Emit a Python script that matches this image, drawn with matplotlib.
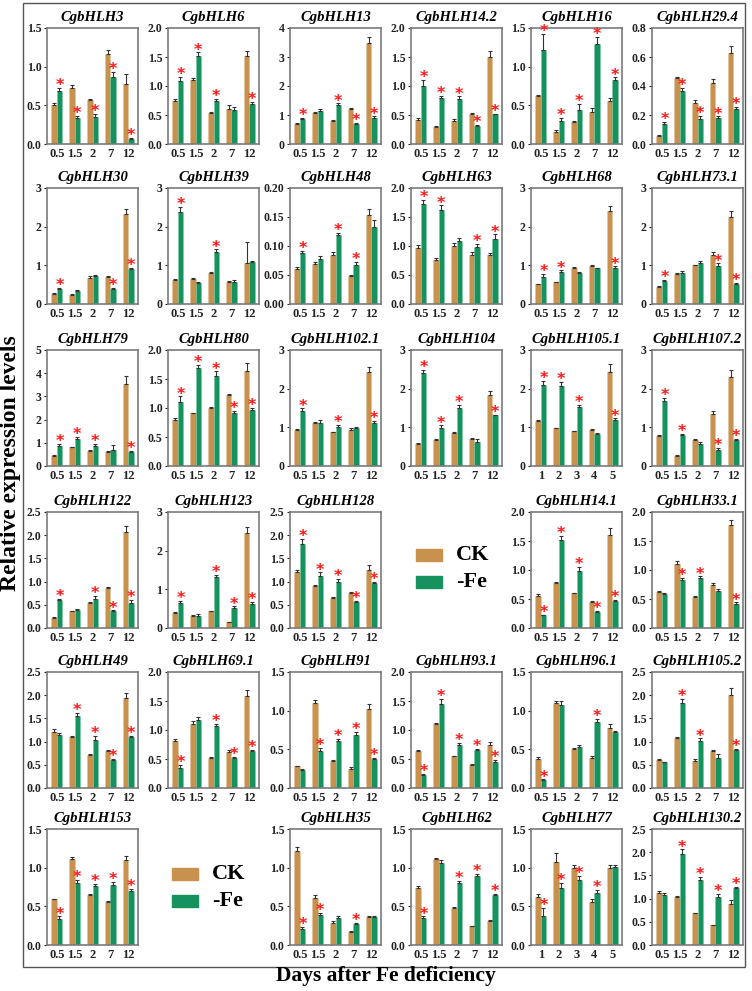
import matplotlib
matplotlib.use("Agg")
import matplotlib.pyplot as plt
from matplotlib.patches import Rectangle

# ---------------- data ----------------
genes = ["CgbHLH3", "CgbHLH6", "CgbHLH13", "CgbHLH14.2", "CgbHLH16", "CgbHLH29.4",
         "CgbHLH30", "CgbHLH39", "CgbHLH48", "CgbHLH63", "CgbHLH68", "CgbHLH73.1",
         "CgbHLH79", "CgbHLH80", "CgbHLH102.1", "CgbHLH104", "CgbHLH105.1", "CgbHLH107.2",
         "CgbHLH122", "CgbHLH123", "CgbHLH128", None, "CgbHLH14.1", "CgbHLH33.1",
         "CgbHLH49", "CgbHLH69.1", "CgbHLH91", "CgbHLH93.1", "CgbHLH96.1", "CgbHLH105.2",
         "CgbHLH153", None, "CgbHLH35", "CgbHLH62", "CgbHLH77", "CgbHLH130.2"]

days = ["0.5", "1.5", "2", "7", "12"]
days_alt = ["1", "2", "3", "4", "5"]
alt_x_genes = ["CgbHLH105.1", "CgbHLH77"]

ck = {
    "CgbHLH3": [0.51, 0.72, 0.57, 1.17, 0.77],
    "CgbHLH6": [0.75, 1.11, 0.54, 0.61, 1.52],
    "CgbHLH13": [0.70, 1.08, 0.80, 1.20, 3.50],
    "CgbHLH14.2": [0.42, 0.29, 0.40, 0.52, 1.50],
    "CgbHLH16": [0.62, 0.16, 0.28, 0.42, 0.55],
    "CgbHLH29.4": [0.055, 0.455, 0.28, 0.42, 0.63],
    "CgbHLH30": [0.27, 0.24, 0.67, 0.69, 2.32],
    "CgbHLH39": [0.62, 0.64, 0.80, 0.58, 1.07],
    "CgbHLH48": [0.061, 0.069, 0.085, 0.048, 0.154],
    "CgbHLH63": [0.97, 0.76, 1.00, 0.85, 0.84],
    "CgbHLH68": [0.52, 0.56, 0.92, 0.98, 2.40],
    "CgbHLH73.1": [0.45, 0.78, 1.00, 1.28, 2.24],
    "CgbHLH79": [0.45, 0.80, 0.65, 0.62, 3.55],
    "CgbHLH80": [0.79, 0.91, 1.00, 1.22, 1.63],
    "CgbHLH102.1": [0.93, 1.10, 0.87, 0.94, 2.42],
    "CgbHLH104": [0.58, 0.66, 0.85, 0.70, 1.84],
    "CgbHLH105.1": [1.16, 0.97, 0.90, 0.93, 2.44],
    "CgbHLH107.2": [0.77, 0.27, 0.66, 1.35, 2.30],
    "CgbHLH122": [0.22, 0.36, 0.54, 0.86, 2.07],
    "CgbHLH123": [0.40, 0.32, 0.43, 0.15, 2.45],
    "CgbHLH128": [1.21, 0.90, 0.64, 0.75, 1.26],
    "CgbHLH14.1": [0.56, 0.78, 0.60, 0.45, 1.60],
    "CgbHLH33.1": [0.62, 1.10, 0.54, 0.75, 1.77],
    "CgbHLH49": [1.21, 1.10, 0.72, 0.79, 1.93],
    "CgbHLH69.1": [0.81, 1.11, 0.52, 0.62, 1.58],
    "CgbHLH91": [0.28, 1.10, 0.35, 0.25, 1.02],
    "CgbHLH93.1": [0.64, 1.11, 0.55, 0.40, 0.75],
    "CgbHLH96.1": [0.38, 1.10, 0.51, 0.39, 0.78],
    "CgbHLH105.2": [0.60, 1.07, 0.59, 0.80, 2.00],
    "CgbHLH153": [0.59, 1.11, 0.65, 0.55, 1.10],
    "CgbHLH35": [1.21, 0.61, 0.29, 0.17, 0.36],
    "CgbHLH62": [0.74, 1.11, 0.48, 0.24, 0.31],
    "CgbHLH77": [0.62, 1.07, 1.00, 0.55, 1.00],
    "CgbHLH130.2": [1.12, 1.04, 0.69, 0.43, 0.88],
}
fe = {
    "CgbHLH3": [0.69, 0.33, 0.35, 0.86, 0.07],
    "CgbHLH6": [1.09, 1.52, 0.74, 0.59, 0.69],
    "CgbHLH13": [0.85, 1.15, 1.35, 0.68, 0.90],
    "CgbHLH14.2": [1.00, 0.79, 0.77, 0.31, 0.51],
    "CgbHLH16": [1.22, 0.30, 0.44, 1.29, 0.83],
    "CgbHLH29.4": [0.14, 0.365, 0.175, 0.18, 0.24],
    "CgbHLH30": [0.39, 0.33, 0.72, 0.38, 0.91],
    "CgbHLH39": [2.39, 0.54, 1.35, 0.58, 1.08],
    "CgbHLH48": [0.088, 0.077, 0.119, 0.068, 0.132],
    "CgbHLH63": [1.72, 1.62, 1.09, 0.98, 1.12],
    "CgbHLH68": [0.71, 0.83, 0.81, 0.93, 0.94],
    "CgbHLH73.1": [0.60, 0.81, 1.05, 0.99, 0.53],
    "CgbHLH79": [0.87, 1.17, 0.88, 0.71, 0.62],
    "CgbHLH80": [1.10, 1.69, 1.55, 0.92, 0.96],
    "CgbHLH102.1": [1.41, 1.11, 1.02, 0.97, 1.12],
    "CgbHLH104": [2.40, 0.97, 1.50, 0.62, 1.31],
    "CgbHLH105.1": [2.10, 2.08, 1.52, 0.82, 1.20],
    "CgbHLH107.2": [1.68, 0.79, 0.58, 0.42, 0.68],
    "CgbHLH122": [0.60, 0.38, 0.63, 0.36, 0.54],
    "CgbHLH123": [0.65, 0.32, 1.33, 0.52, 0.62],
    "CgbHLH128": [1.80, 1.13, 1.00, 0.56, 0.96],
    "CgbHLH14.1": [0.22, 1.52, 0.99, 0.27, 0.47],
    "CgbHLH33.1": [0.59, 0.82, 0.86, 0.63, 0.41],
    "CgbHLH49": [1.14, 1.55, 1.04, 0.60, 1.09],
    "CgbHLH69.1": [0.35, 1.17, 1.07, 0.51, 0.64],
    "CgbHLH91": [0.23, 0.48, 0.61, 0.68, 0.37],
    "CgbHLH93.1": [0.23, 1.45, 0.75, 0.65, 0.44],
    "CgbHLH96.1": [0.10, 1.07, 0.53, 0.85, 0.72],
    "CgbHLH105.2": [0.55, 1.83, 1.02, 0.65, 0.81],
    "CgbHLH153": [0.34, 0.80, 0.76, 0.77, 0.70],
    "CgbHLH35": [0.21, 0.39, 0.35, 0.27, 0.36],
    "CgbHLH62": [0.35, 1.06, 0.80, 0.89, 0.65],
    "CgbHLH77": [0.38, 0.74, 0.84, 0.67, 1.01],
    "CgbHLH130.2": [1.08, 1.96, 1.40, 1.03, 1.23],
}
ck_err = {
    "CgbHLH3": [0.02, 0.04, 0.01, 0.05, 0.13],
    "CgbHLH6": [0.03, 0.02, 0.01, 0.07, 0.09],
    "CgbHLH13": [0.03, 0.03, 0.04, 0.03, 0.20],
    "CgbHLH14.2": [0.02, 0.02, 0.03, 0.02, 0.10],
    "CgbHLH16": [0.02, 0.02, 0.02, 0.04, 0.05],
    "CgbHLH29.4": [0.005, 0.01, 0.025, 0.03, 0.045],
    "CgbHLH30": [0.02, 0.01, 0.05, 0.03, 0.13],
    "CgbHLH39": [0.02, 0.02, 0.03, 0.02, 0.53],
    "CgbHLH48": [0.002, 0.003, 0.004, 0.002, 0.010],
    "CgbHLH63": [0.04, 0.03, 0.05, 0.04, 0.04],
    "CgbHLH68": [0.01, 0.02, 0.03, 0.03, 0.13],
    "CgbHLH73.1": [0.02, 0.02, 0.02, 0.06, 0.17],
    "CgbHLH79": [0.02, 0.02, 0.03, 0.02, 0.35],
    "CgbHLH80": [0.03, 0.01, 0.02, 0.03, 0.14],
    "CgbHLH102.1": [0.02, 0.03, 0.02, 0.04, 0.13],
    "CgbHLH104": [0.02, 0.03, 0.03, 0.03, 0.10],
    "CgbHLH105.1": [0.03, 0.02, 0.01, 0.03, 0.20],
    "CgbHLH107.2": [0.04, 0.02, 0.04, 0.07, 0.19],
    "CgbHLH122": [0.01, 0.01, 0.01, 0.02, 0.12],
    "CgbHLH123": [0.02, 0.02, 0.02, 0.01, 0.15],
    "CgbHLH128": [0.03, 0.02, 0.02, 0.02, 0.09],
    "CgbHLH14.1": [0.02, 0.01, 0.01, 0.02, 0.12],
    "CgbHLH33.1": [0.01, 0.06, 0.01, 0.02, 0.10],
    "CgbHLH49": [0.07, 0.03, 0.02, 0.02, 0.12],
    "CgbHLH69.1": [0.03, 0.04, 0.01, 0.03, 0.11],
    "CgbHLH91": [0.01, 0.04, 0.01, 0.02, 0.06],
    "CgbHLH93.1": [0.01, 0.01, 0.01, 0.01, 0.04],
    "CgbHLH96.1": [0.02, 0.03, 0.01, 0.03, 0.05],
    "CgbHLH105.2": [0.03, 0.03, 0.04, 0.02, 0.15],
    "CgbHLH153": [0.01, 0.03, 0.01, 0.02, 0.05],
    "CgbHLH35": [0.06, 0.04, 0.02, 0.01, 0.02],
    "CgbHLH62": [0.02, 0.02, 0.01, 0.01, 0.01],
    "CgbHLH77": [0.04, 0.12, 0.03, 0.04, 0.04],
    "CgbHLH130.2": [0.05, 0.02, 0.01, 0.01, 0.10],
}
fe_err = {
    "CgbHLH3": [0.04, 0.03, 0.04, 0.07, 0.01],
    "CgbHLH6": [0.06, 0.06, 0.04, 0.05, 0.03],
    "CgbHLH13": [0.05, 0.07, 0.05, 0.04, 0.05],
    "CgbHLH14.2": [0.11, 0.04, 0.05, 0.02, 0.01],
    "CgbHLH16": [0.20, 0.04, 0.08, 0.09, 0.03],
    "CgbHLH29.4": [0.01, 0.02, 0.02, 0.01, 0.015],
    "CgbHLH30": [0.03, 0.03, 0.03, 0.03, 0.03],
    "CgbHLH39": [0.12, 0.02, 0.06, 0.03, 0.04],
    "CgbHLH48": [0.004, 0.005, 0.003, 0.004, 0.012],
    "CgbHLH63": [0.08, 0.08, 0.05, 0.05, 0.08],
    "CgbHLH68": [0.06, 0.04, 0.02, 0.01, 0.03],
    "CgbHLH73.1": [0.03, 0.05, 0.05, 0.06, 0.02],
    "CgbHLH79": [0.08, 0.08, 0.07, 0.20, 0.03],
    "CgbHLH80": [0.10, 0.05, 0.08, 0.03, 0.04],
    "CgbHLH102.1": [0.08, 0.07, 0.04, 0.04, 0.04],
    "CgbHLH104": [0.09, 0.08, 0.09, 0.07, 0.02],
    "CgbHLH105.1": [0.10, 0.09, 0.05, 0.04, 0.03],
    "CgbHLH107.2": [0.08, 0.04, 0.05, 0.05, 0.01],
    "CgbHLH122": [0.02, 0.02, 0.06, 0.02, 0.06],
    "CgbHLH123": [0.04, 0.03, 0.05, 0.04, 0.06],
    "CgbHLH128": [0.12, 0.07, 0.06, 0.03, 0.03],
    "CgbHLH14.1": [0.01, 0.07, 0.06, 0.02, 0.02],
    "CgbHLH33.1": [0.02, 0.04, 0.03, 0.05, 0.03],
    "CgbHLH49": [0.04, 0.07, 0.08, 0.02, 0.04],
    "CgbHLH69.1": [0.05, 0.05, 0.04, 0.02, 0.02],
    "CgbHLH91": [0.01, 0.04, 0.03, 0.05, 0.02],
    "CgbHLH93.1": [0.01, 0.08, 0.03, 0.02, 0.05],
    "CgbHLH96.1": [0.01, 0.05, 0.03, 0.04, 0.02],
    "CgbHLH105.2": [0.02, 0.09, 0.05, 0.08, 0.03],
    "CgbHLH153": [0.03, 0.04, 0.03, 0.05, 0.03],
    "CgbHLH35": [0.02, 0.02, 0.02, 0.02, 0.01],
    "CgbHLH62": [0.02, 0.04, 0.03, 0.03, 0.01],
    "CgbHLH77": [0.10, 0.06, 0.05, 0.04, 0.03],
    "CgbHLH130.2": [0.04, 0.10, 0.06, 0.07, 0.02],
}
# indices of -Fe bars marked as significant
stars = {
    "CgbHLH3": [0, 1, 2, 3, 4], "CgbHLH6": [0, 1, 2, 4], "CgbHLH13": [0, 2, 3, 4],
    "CgbHLH14.2": [0, 1, 2, 3, 4], "CgbHLH16": [0, 1, 2, 3, 4], "CgbHLH29.4": [0, 1, 2, 3, 4],
    "CgbHLH30": [0, 3, 4], "CgbHLH39": [0, 2], "CgbHLH48": [0, 2, 3],
    "CgbHLH63": [0, 1, 3, 4], "CgbHLH68": [0, 1, 4], "CgbHLH73.1": [0, 3, 4],
    "CgbHLH79": [0, 1, 2, 4], "CgbHLH80": [0, 1, 2, 3, 4], "CgbHLH102.1": [0, 2, 4],
    "CgbHLH104": [0, 1, 2, 4], "CgbHLH105.1": [0, 1, 2, 4], "CgbHLH107.2": [0, 1, 3, 4],
    "CgbHLH122": [0, 2, 3, 4], "CgbHLH123": [0, 2, 3, 4], "CgbHLH128": [0, 1, 2, 3, 4],
    "CgbHLH14.1": [0, 1, 2, 3, 4], "CgbHLH33.1": [1, 2, 4],
    "CgbHLH49": [1, 2, 3, 4], "CgbHLH69.1": [0, 2, 3, 4], "CgbHLH91": [1, 2, 3, 4],
    "CgbHLH93.1": [0, 1, 2, 3, 4], "CgbHLH96.1": [0, 3], "CgbHLH105.2": [1, 2, 4],
    "CgbHLH153": [0, 1, 2, 3, 4], "CgbHLH35": [0, 1, 3], "CgbHLH62": [0, 2, 3, 4],
    "CgbHLH77": [0, 1, 2, 3], "CgbHLH130.2": [1, 2, 3, 4],
}
# y-axis (max, step, decimals)
yaxis = {
    "CgbHLH3": (1.5, 0.5, 1), "CgbHLH6": (2.0, 0.5, 1), "CgbHLH13": (4, 1, 0),
    "CgbHLH14.2": (2.0, 0.5, 1), "CgbHLH16": (1.5, 0.5, 1), "CgbHLH29.4": (0.8, 0.2, 1),
    "CgbHLH30": (3, 1, 0), "CgbHLH39": (3, 1, 0), "CgbHLH48": (0.20, 0.05, 2),
    "CgbHLH63": (2.0, 0.5, 1), "CgbHLH68": (3, 1, 0), "CgbHLH73.1": (3, 1, 0),
    "CgbHLH79": (5, 1, 0), "CgbHLH80": (2.0, 0.5, 1), "CgbHLH102.1": (3, 1, 0),
    "CgbHLH104": (3, 1, 0), "CgbHLH105.1": (3, 1, 0), "CgbHLH107.2": (3, 1, 0),
    "CgbHLH122": (2.5, 0.5, 1), "CgbHLH123": (3, 1, 0), "CgbHLH128": (2.5, 0.5, 1),
    "CgbHLH14.1": (2.0, 0.5, 1), "CgbHLH33.1": (2.0, 0.5, 1),
    "CgbHLH49": (2.5, 0.5, 1), "CgbHLH69.1": (2.0, 0.5, 1), "CgbHLH91": (1.5, 0.5, 1),
    "CgbHLH93.1": (2.0, 0.5, 1), "CgbHLH96.1": (1.5, 0.5, 1), "CgbHLH105.2": (2.5, 0.5, 1),
    "CgbHLH153": (1.5, 0.5, 1), "CgbHLH35": (1.5, 0.5, 1), "CgbHLH62": (1.5, 0.5, 1),
    "CgbHLH77": (1.5, 0.5, 1), "CgbHLH130.2": (2.5, 0.5, 1),
}

CK_COLOR = "#C8924E"
FE_COLOR = "#16925E"
SERIF = ["Liberation Serif", "DejaVu Serif"]

W, H = 752, 991
fig = plt.figure(figsize=(W / 100, H / 100), dpi=100)

col_left = [47, 168, 290, 411, 531, 652]
ax_w = 91
row_top = [28, 188, 350, 512, 672, 829]
ax_h = 116

def px_rect(x, y, w, h):
    return [x / W, 1 - (y + h) / H, w / W, h / H]

bw = 0.3
for i, g in enumerate(genes):
    r, c = divmod(i, 6)
    if g is None:
        continue
    ax = fig.add_axes(px_rect(col_left[c], row_top[r], ax_w, ax_h))
    ymax, step, dec = yaxis[g]
    xs = list(range(5))
    xck = [x - bw / 2 for x in xs]
    xfe = [x + bw / 2 for x in xs]
    ax.bar(xck, ck[g], width=bw, color=CK_COLOR, edgecolor="#E2C49A", linewidth=0.4, zorder=2)
    ax.bar(xfe, fe[g], width=bw, color=FE_COLOR, edgecolor="#7CC9A4", linewidth=0.4, zorder=2)
    ax.errorbar(xck, ck[g], yerr=[[0] * 5, ck_err[g]], fmt="none", ecolor="#333333",
                elinewidth=0.8, capsize=1.6, capthick=0.8, zorder=3)
    ax.errorbar(xfe, fe[g], yerr=[[0] * 5, fe_err[g]], fmt="none", ecolor="#333333",
                elinewidth=0.8, capsize=1.6, capthick=0.8, zorder=3)
    for k in stars[g]:
        ytop = fe[g][k] + fe_err[g][k] + ymax * 0.02
        ax.text(xfe[k], ytop, "*", color="#FF1A1A", ha="center", va="center",
                fontsize=11.5, fontweight="bold", family="DejaVu Sans", zorder=4, clip_on=False)
    ax.set_xlim(-0.55, 4.55)
    ax.set_ylim(0, ymax)
    nt = int(round(ymax / step))
    ticks = [step * t for t in range(nt + 1)]
    ax.set_yticks(ticks)
    ax.set_yticklabels([f"{t:.{dec}f}" for t in ticks], family=SERIF, fontweight="bold", fontsize=8.5)
    ax.set_xticks(xs)
    ax.set_xticklabels(days_alt if g in alt_x_genes else days, family=SERIF,
                       fontweight="bold", fontsize=9)
    ax.tick_params(axis="y", length=2.5, width=0.8, pad=1.5, colors="#222222")
    ax.tick_params(axis="x", length=0, pad=3, colors="#222222")
    for s in ax.spines.values():
        s.set_color("#7a7a7a")
        s.set_linewidth(1.2)
    ax.set_title(g, family=SERIF, fontweight="bold", fontstyle="italic", fontsize=10.5, pad=5)

# legends
def legend_at(x, y_ck, y_fe):
    for yy, col, lab in [(y_ck, CK_COLOR, "CK"), (y_fe, FE_COLOR, "-Fe")]:
        fig.patches.append(Rectangle((x / W, 1 - (yy + 6) / H), 26 / W, 12 / H,
                                     transform=fig.transFigure, color=col))
        fig.text((x + 40) / W, 1 - yy / H, lab, family=SERIF, fontweight="bold",
                 fontsize=16, va="center", ha="left")

legend_at(416, 555, 582)
legend_at(172, 874, 901)

# outer border
fig.patches.append(Rectangle((23 / W, 1 - 967 / H), (745 - 23) / W, (967 - 3) / H,
                             transform=fig.transFigure, fill=False, edgecolor="#555555",
                             linewidth=1.0))

fig.text(11 / W, 1 - 463 / H, "Relative expression levels", rotation=90, family=SERIF,
         fontweight="bold", fontsize=17, ha="center", va="center")
fig.text(386 / W, 1 - 976 / H, "Days after Fe deficiency", family=SERIF,
         fontweight="bold", fontsize=15.5, ha="center", va="center")

fig.savefig("out.png", dpi=100)
